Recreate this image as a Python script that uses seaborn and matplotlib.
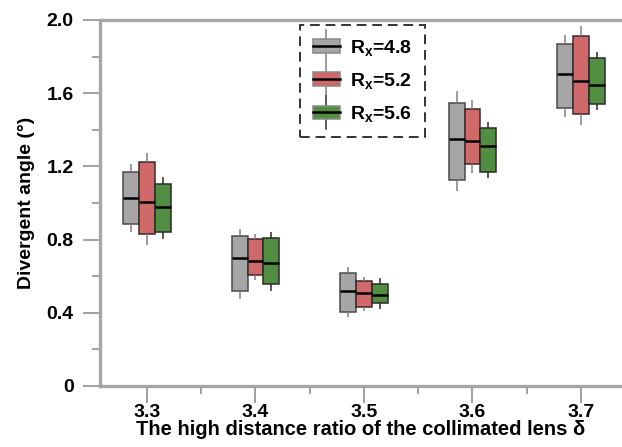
import numpy as np
import pandas as pd
import matplotlib
matplotlib.use("Agg")
import matplotlib.pyplot as plt
import seaborn as sns
from matplotlib.legend_handler import HandlerBase
from matplotlib.patches import Rectangle, Patch
from matplotlib.lines import Line2D
from matplotlib.ticker import FixedLocator, FuncFormatter

# ---- data ----
categories = ["3.3", "3.4", "3.5", "3.6", "3.7"]
series = ["4.8", "5.2", "5.6"]

g_lo  = [0.840, 0.475, 0.375, 1.066, 1.472]
g_q1  = [0.883, 0.519, 0.404, 1.124, 1.521]
g_med = [1.027, 0.699, 0.521, 1.348, 1.705]
g_q3  = [1.171, 0.820, 0.619, 1.548, 1.867]
g_hi  = [1.213, 0.860, 0.648, 1.612, 1.920]

r_lo  = [0.770, 0.578, 0.408, 1.166, 1.424]
r_q1  = [0.829, 0.605, 0.430, 1.211, 1.485]
r_med = [1.005, 0.685, 0.506, 1.341, 1.668]
r_q3  = [1.224, 0.805, 0.576, 1.515, 1.911]
r_hi  = [1.273, 0.829, 0.597, 1.563, 1.969]

n_lo  = [0.801, 0.519, 0.423, 1.134, 1.506]
n_q1  = [0.840, 0.557, 0.452, 1.168, 1.539]
n_med = [0.980, 0.670, 0.499, 1.313, 1.646]
n_q3  = [1.106, 0.811, 0.556, 1.410, 1.790]
n_hi  = [1.140, 0.840, 0.588, 1.441, 1.823]

stats = {
    "4.8": (g_lo, g_q1, g_med, g_q3, g_hi),
    "5.2": (r_lo, r_q1, r_med, r_q3, r_hi),
    "5.6": (n_lo, n_q1, n_med, n_q3, n_hi),
}

rows = []
for s in series:
    for i, c in enumerate(categories):
        for arr in stats[s]:
            rows.append({"ratio": c, "Rx": s, "angle": arr[i]})
df = pd.DataFrame(rows)

face = {"4.8": "#A6A6A6", "5.2": "#D06969", "5.6": "#518E41"}
edge = {"4.8": "#4A4A4A", "5.2": "#3A2A2A", "5.6": "#2A2A2A"}
wcol = {"4.8": "#808080", "5.2": "#808080", "5.6": "#2A2A2A"}

plt.rcParams["font.family"] = ["Liberation Sans", "DejaVu Sans"]
plt.rcParams["font.weight"] = "bold"
plt.rcParams["mathtext.fontset"] = "custom"
plt.rcParams["mathtext.rm"] = "Liberation Sans:bold"
plt.rcParams["mathtext.bf"] = "Liberation Sans:bold"
plt.rcParams["mathtext.it"] = "Liberation Sans:bold"

fig = plt.figure(figsize=(6.22, 4.47), dpi=100)
ax = fig.add_axes([100 / 622, 1 - 386 / 447, 1 - 100 / 622, (386 - 20) / 447])

sns.boxplot(data=df, x="ratio", y="angle", hue="Rx", order=categories,
            hue_order=series, palette=face, width=0.44, gap=0, whis=np.inf,
            showcaps=False, linewidth=1.0, legend=False, ax=ax)

for cont, s in zip(ax.containers, series):
    for b in cont.boxes:
        b.set_facecolor(face[s])
        b.set_edgecolor(edge[s])
        b.set_linewidth(1.1)
    for m in cont.medians:
        m.set_color("black")
        m.set_linewidth(1.8)
    for w in cont.whiskers:
        w.set_color(wcol[s])
        w.set_linewidth(1.1)

ax.set_xlim(-0.433, 4.378)
ax.set_ylim(0, 2.0)
ax.yaxis.set_major_locator(FixedLocator([0, 0.4, 0.8, 1.2, 1.6, 2.0]))
ax.yaxis.set_minor_locator(FixedLocator([0.2, 0.6, 1.0, 1.4, 1.8]))
ax.yaxis.set_major_formatter(FuncFormatter(lambda v, p: "0" if abs(v) < 1e-9 else f"{v:.1f}"))
ax.xaxis.set_minor_locator(FixedLocator([0.5, 1.5, 2.5, 3.5]))

spc = "#A6A6A6"
for side in ["left", "bottom", "top"]:
    ax.spines[side].set_color(spc)
    ax.spines[side].set_linewidth(2.4)
ax.spines["right"].set_visible(False)

ax.tick_params(axis="both", which="major", direction="out", length=12, width=1.2,
               color="#909090", labelsize=14)
ax.tick_params(axis="both", which="minor", direction="out", length=6, width=1.2,
               color="#909090")
ax.tick_params(axis="y", which="major", pad=7)
ax.tick_params(axis="x", which="major", pad=1)
for lab in ax.get_xticklabels() + ax.get_yticklabels():
    lab.set_fontweight("bold")

ax.set_xlabel("The high distance ratio of the collimated lens δ", fontsize=14.5,
              fontweight="bold", labelpad=-1)
ax.set_ylabel("Divergent angle (°)", fontsize=14, fontweight="bold", labelpad=8)


class BoxHandler(HandlerBase):
    def create_artists(self, legend, orig, xd, yd, width, height, fontsize, trans):
        s = orig.get_label()
        x0, y0 = -xd, -yd
        wl = Line2D([x0 + width / 2, x0 + width / 2], [y0 - 0.7 * height, y0 + 1.7 * height],
                    color=wcol[s], lw=1.1, transform=trans)
        r = Rectangle((x0, y0), width, height, facecolor=face[s], edgecolor="#888888",
                      lw=1.1, transform=trans)
        ml = Line2D([x0, x0 + width], [y0 + height / 2, y0 + height / 2],
                    color="black", lw=1.8, transform=trans)
        return [wl, r, ml]


handles = [Patch(label=s) for s in series]
labels = [r"$\mathbf{R_x}$=" + s for s in series]
leg = ax.legend(handles, labels, handler_map={Patch: BoxHandler()},
                loc="upper left", bbox_to_anchor=(0.383, 0.986), borderaxespad=0,
                fontsize=14, frameon=True, fancybox=False, handlelength=1.4,
                handleheight=0.7, labelspacing=0.68, handletextpad=0.55,
                borderpad=0.65)
fr = leg.get_frame()
fr.set_edgecolor("black")
fr.set_linestyle((0, (5, 3)))
fr.set_linewidth(1.4)
for t in leg.get_texts():
    t.set_fontweight("bold")

fig.savefig("out.png", dpi=100)
